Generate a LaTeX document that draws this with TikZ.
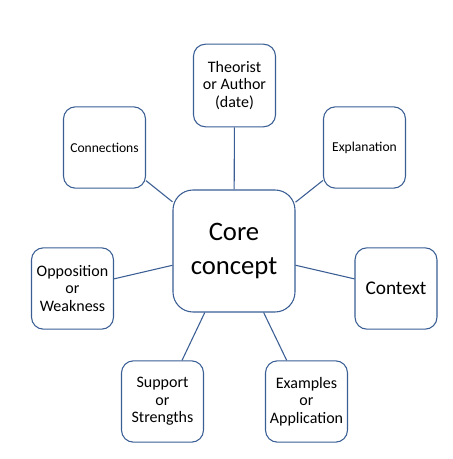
\documentclass[tikz,border=0pt]{standalone}
\usepackage{fontspec}
\setmainfont{Carlito}
\usepackage{xcolor}
\usepackage{tikz}
\usetikzlibrary{positioning}
\definecolor{outline}{HTML}{3A5E94}

\begin{document}
\begin{tikzpicture}[
  x=0.75pt, y=-0.75pt,
  box/.style={draw=outline, line width=0.8pt, rounded corners=9pt, align=center,
    minimum width=61.5pt, minimum height=61pt, inner sep=2pt, fill=white},
  core/.style={box, rounded corners=15pt, minimum width=91.5pt, minimum height=91.5pt},
  link/.style={draw=outline, line width=0.8pt},
  txt/.style={font=\fontsize{12}{13}\selectfont},
  small/.style={font=\fontsize{10.2}{12}\selectfont}
]
\useasboundingbox (0,0) rectangle (452,459);
\fill[white] (0,0) rectangle (452,459);

\node[core, font=\fontsize{20}{25}\selectfont] (concept) at (234,251) {Core\\concept};
\node[box, txt, minimum height=62pt] (theorist) at (234.5,85.5) {Theorist\\or Author\\(date)};
\node[box, small] (connections) at (104.5,147.5) {Connections};
\node[box, small] (explanation) at (364.5,147.5) {Explanation};
\node[box, txt] (opposition) at (72.5,288.5) {Opposition\\or\\Weakness};
\node[box, font=\fontsize{14.5}{17}\selectfont] (context) at (396,288.5) {Context};
\node[box, txt] (support) at (162.5,401.5) {Support\\or\\Strengths};
\node[box, txt] (examples) at (306.5,401.5) {Examples\\or\\Application};

\foreach \n in {theorist,connections,explanation,opposition,context,support,examples}
  \draw[link] (concept) -- (\n);
\end{tikzpicture}
\end{document}
